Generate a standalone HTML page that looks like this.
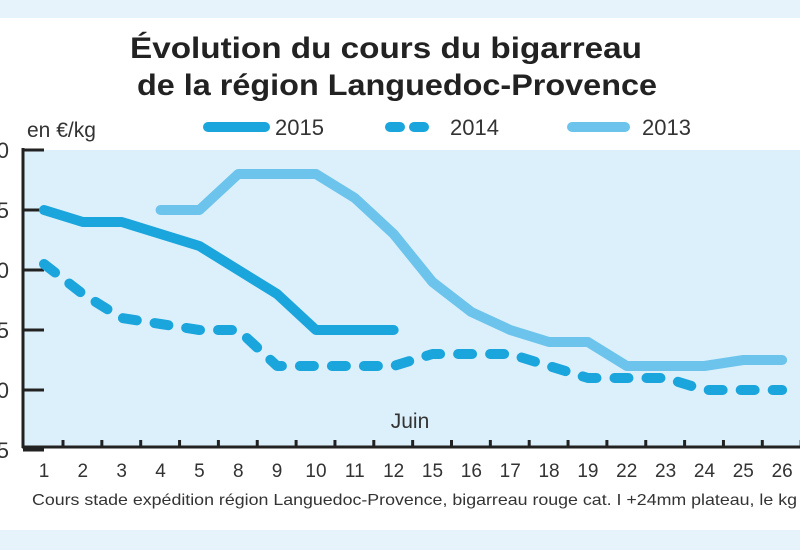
<!DOCTYPE html>
<html><head><meta charset="utf-8"><style>
body{margin:0;width:800px;height:550px;overflow:hidden;background:#fff;font-family:"Liberation Sans",sans-serif}
</style></head><body>
<svg width="800" height="550" xmlns="http://www.w3.org/2000/svg">
<rect x="0" y="0" width="800" height="18" fill="#e6f3fb"/>
<rect x="0" y="530" width="800" height="20" fill="#e6f3fb"/>
<text x="130" y="58" font-weight="bold" font-size="30" fill="#222" textLength="512" lengthAdjust="spacingAndGlyphs">Évolution du cours du bigarreau</text>
<text x="137" y="95" font-weight="bold" font-size="30" fill="#222" textLength="520" lengthAdjust="spacingAndGlyphs">de la région Languedoc-Provence</text>
<text x="27" y="137" font-size="21" fill="#333">en €/kg</text>
<g>
<line x1="208" y1="127" x2="265" y2="127" stroke="#1aa5dc" stroke-width="10" stroke-linecap="round"/>
<text x="275" y="135" font-size="22" fill="#333">2015</text>
<line x1="390" y1="127" x2="436" y2="127" stroke="#1aa5dc" stroke-width="10" stroke-linecap="round" stroke-dasharray="10 14"/>
<text x="450" y="135" font-size="22" fill="#333">2014</text>
<line x1="572" y1="127" x2="625" y2="127" stroke="#6cc4ec" stroke-width="10" stroke-linecap="round"/>
<text x="642" y="135" font-size="22" fill="#333">2013</text>
</g>
<rect x="23" y="150" width="777" height="297" fill="#dcf0fb"/>
<g id="g"></g>
<text x="410" y="428" text-anchor="middle" font-size="21" fill="#333">Juin</text>
<text x="32" y="505" font-size="16" fill="#333" textLength="765" lengthAdjust="spacingAndGlyphs">Cours stade expédition région Languedoc-Provence, bigarreau rouge cat. I +24mm plateau, le kg</text>
</svg>
<script>
const weeks=["1","2","3","4","5","8","9","10","11","12","15","16","17","18","19","22","23","24","25","26"];
const s2015=[5.5,5.4,5.4,5.3,5.2,5.0,4.8,4.5,4.5,4.5];
const s2014=[5.05,4.8,4.6,4.55,4.5,4.5,4.2,4.2,4.2,4.2,4.3,4.3,4.3,4.2,4.1,4.1,4.1,4.0,4.0,4.0];
const s2013=[null,null,null,5.5,5.5,5.8,5.8,5.8,5.6,5.3,4.9,4.65,4.5,4.4,4.4,4.2,4.2,4.2,4.25,4.25];
const yTicks=[6.0,5.5,5.0,4.5,4.0,3.5];
const yLabels=["6,0","5,5","5,0","4,5","4,0","3,5"];
const NS="http://www.w3.org/2000/svg",g=document.getElementById('g');
const X=i=>44+i*38.85, Y=v=>150+(6-v)*120;
function mk(t,a){const e=document.createElementNS(NS,t);for(const k in a)e.setAttribute(k,a[k]);g.appendChild(e);return e;}
let e=mk('line',{x1:23,y1:148,x2:23,y2:448,stroke:'#222','stroke-width':3});


e=mk('line',{x1:22,y1:447,x2:800,y2:447,stroke:'#222','stroke-width':3});


yTicks.forEach((v,i)=>{
 e=mk('line',{x1:23,y1:Y(v),x2:44,y2:Y(v),stroke:'#222','stroke-width':3});
 
 
 e=mk('text',{x:9,y:Y(v)+8,'text-anchor':'end','font-size':22,fill:'#333'});e.textContent=yLabels[i];
 
 
});
weeks.forEach((w,i)=>{
 e=mk('line',{x1:X(i)+19,y1:440,x2:X(i)+19,y2:447,stroke:'#222','stroke-width':3});
 
 
 e=mk('text',{x:X(i),y:477,'text-anchor':'middle','font-size':19,fill:'#333'});e.textContent=w;
 
 
});
function line(arr,col,dash,name){
 const pts=[];arr.forEach((v,i)=>{if(v!=null)pts.push(X(i)+','+Y(v));});
 const a={points:pts.join(' '),fill:'none',stroke:col,'stroke-width':10,'stroke-linejoin':'round','stroke-linecap':'round'};
 if(dash)a['stroke-dasharray']=dash;
 const p=mk('polyline',a);
 
 
}
line(s2013,'#6cc4ec',null,'series-2013');
line(s2014,'#1aa5dc','14 18','series-2014');
line(s2015,'#1aa5dc',null,'series-2015');
</script>
</body></html>
